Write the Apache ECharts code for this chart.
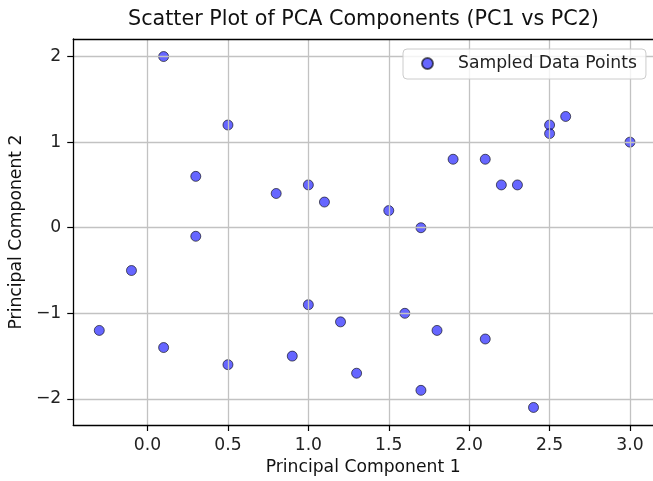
<!DOCTYPE html>
<html>
<head>
<meta charset="utf-8">
<script src="https://cdn.jsdelivr.net/npm/echarts@6/dist/echarts.min.js"></script>
<style>
  html, body { margin: 0; padding: 0; background: #ffffff; }
  #chart { width: 653px; height: 481px; }
</style>
</head>
<body>
<div id="chart"></div>
<script>
// PCA projection of the sampled points
const pc1 = [0.1, 0.5, 0.3, 0.8, 1.0, 1.1, 2.5, 2.5, 2.6, 3.0, 1.9, 2.1, 2.2, 2.3, 1.5,
             1.7, 0.3, -0.1, -0.3, 0.1, 0.5, 1.0, 1.2, 0.9, 1.3, 1.6, 1.8, 2.1, 1.7, 2.4];
const pc2 = [2.0, 1.2, 0.6, 0.4, 0.5, 0.3, 1.2, 1.1, 1.3, 1.0, 0.8, 0.8, 0.5, 0.5, 0.2,
             0.0, -0.1, -0.5, -1.2, -1.4, -1.6, -0.9, -1.1, -1.5, -1.7, -1.0, -1.2, -1.3, -1.9, -2.1];

const xTicks = [0.0, 0.5, 1.0, 1.5, 2.0, 2.5, 3.0];
const yTicks = [-2, -1, 0, 1, 2];

const seriesName = 'Sampled Data Points';
const titleText = 'Scatter Plot of PCA Components (PC1 vs PC2)';
const xName = 'Principal Component 1';
const yName = 'Principal Component 2';

const FONT = 'DejaVu Sans';
const points = pc1.map((x, i) => [x, pc2[i]]);
const minus = s => String(s).replace('-', '\u2212');

// visible x range (the right edge of the frame runs off the canvas)
const X_MIN = -0.462;
const X_MAX = 3.143;

const gridLine = { show: true, lineStyle: { color: '#c2c2c2', width: 1.3 } };
const spine = { show: true, onZero: false, lineStyle: { color: '#000000', width: 1.3 } };
const tick = (vals) => ({ show: true, customValues: vals, length: 6, lineStyle: { color: '#000000', width: 1.2 } });

const chart = echarts.init(document.getElementById('chart'), null, { renderer: 'canvas' });
chart.setOption({
  animation: false,
  backgroundColor: '#ffffff',
  title: {
    text: titleText,
    left: 128,
    top: 9,
    padding: 0,
    textStyle: { fontFamily: FONT, fontSize: 20.7, fontWeight: 'normal', color: '#111111' }
  },
  legend: {
    data: [seriesName],
    left: 403,
    top: 49,
    padding: [6, 9, 7, 18],
    itemWidth: 11,
    itemHeight: 11,
    icon: 'circle',
    backgroundColor: 'rgba(255,255,255,0.8)',
    borderColor: '#cccccc',
    borderWidth: 1,
    borderRadius: 4,
    textStyle: { fontFamily: FONT, fontSize: 17.2, color: '#222222', padding: [0, 0, 0, 20] }
  },
  grid: { left: 73, right: 0, top: 39, bottom: 56, show: false },
  xAxis: [{
    type: 'value',
    min: X_MIN,
    max: X_MAX,
    z: 3,
    name: xName,
    nameLocation: 'middle',
    nameGap: 27,
    nameTextStyle: { fontFamily: FONT, fontSize: 17.2, color: '#111111' },
    axisLine: spine,
    axisTick: tick(xTicks),
    axisLabel: {
      customValues: xTicks, margin: 12,
      fontFamily: FONT, fontSize: 17.2, color: '#222222',
      formatter: v => minus(Number(v).toFixed(1))
    },
    splitLine: gridLine
  }, {
    // top frame line
    type: 'value',
    position: 'top',
    min: X_MIN,
    max: X_MAX,
    z: 3,
    axisLine: spine,
    axisTick: { show: false },
    axisLabel: { show: false },
    splitLine: { show: false }
  }],
  yAxis: {
    type: 'value',
    min: -2.305,
    max: 2.205,
    z: 3,
    name: yName,
    nameLocation: 'middle',
    nameGap: 47,
    nameRotate: 90,
    nameTextStyle: { fontFamily: FONT, fontSize: 17.2, color: '#111111' },
    axisLine: spine,
    axisTick: tick(yTicks),
    axisLabel: {
      customValues: yTicks, margin: 12,
      fontFamily: FONT, fontSize: 17.2, color: '#222222',
      formatter: v => minus(Math.round(v))
    },
    splitLine: gridLine
  },
  series: [{
    name: seriesName,
    type: 'scatter',
    xAxisIndex: 0,
    data: points,
    symbol: 'circle',
    symbolSize: 10,
    z: 2,
    itemStyle: { color: '#0000ff', borderColor: '#000000', borderWidth: 1, opacity: 0.6 },
    emphasis: { disabled: true }
  }]
});
</script>
</body>
</html>
